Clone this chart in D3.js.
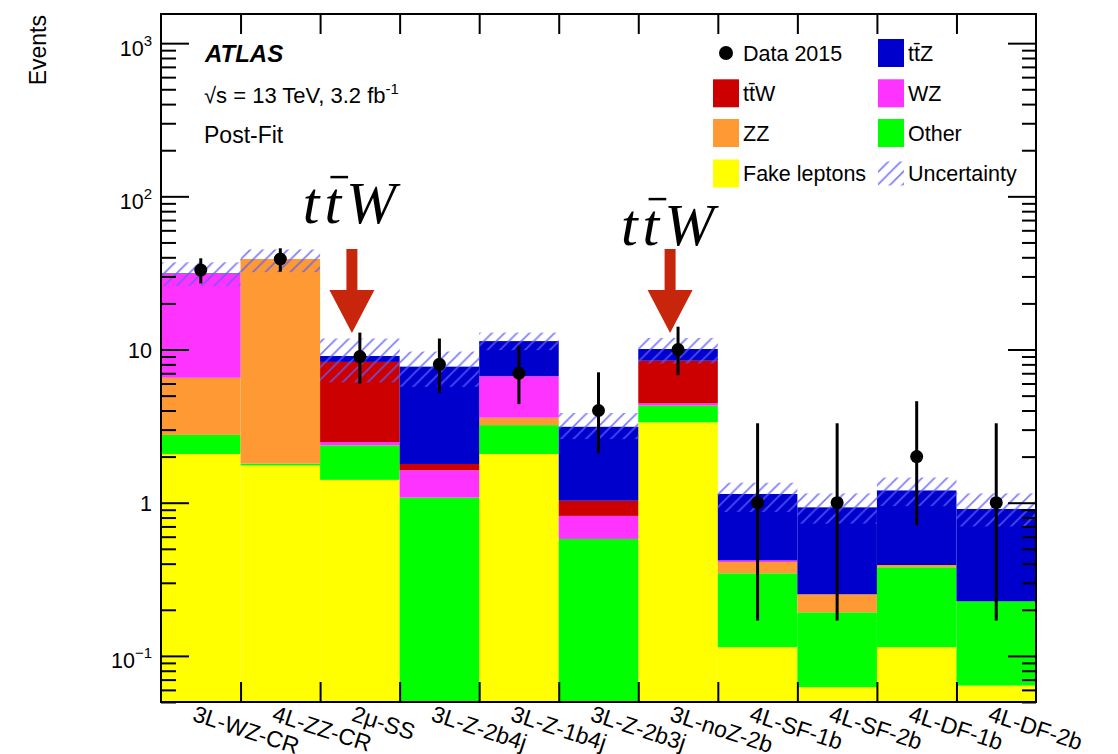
<!DOCTYPE html>
<html lang="en">
<head>
<meta charset="utf-8">
<style>
  body { margin: 0; background: #fff; }
  svg { display: block; font-family: "Liberation Sans", Arial, Helvetica, sans-serif; }
</style>
</head>
<body>
<svg width="1118" height="754"></svg>
<script src="https://d3js.org/d3.v7.min.js"></script>
<script>
// regions (bins)
var categories = ["3L-WZ-CR", "4L-ZZ-CR", "2\u03bc-SS", "3L-Z-2b4j", "3L-Z-1b4j", "3L-Z-2b3j",
                  "3L-noZ-2b", "4L-SF-1b", "4L-SF-2b", "4L-DF-1b", "4L-DF-2b"];

// post-fit yields per process (stacked bottom -> top)
var fakeLeptons = [2.08, 1.75, 1.41, 0,    2.08, 0,    3.35, 0.114, 0.0625, 0.114, 0.064];
var other       = [0.69, 0.05, 0.96, 1.08, 1.13, 0.58, 0.95, 0.232, 0.13,   0.265, 0.163];
var zz          = [3.77, 37.2, 0,    0,    0.38, 0,    0,    0.064, 0.06,   0.013, 0];
var wz          = [24.6, 0,    0.12, 0.55, 3.11, 0.24, 0.15, 0.01,  0,      0,     0];
var ttw         = [0.1,  0,    5.81, 0.16, 0,    0.21, 4.0,  0,     0,      0,     0];
var ttz         = [0.2,  0,    0.77, 5.94, 4.65, 2.10, 1.63, 0.72,  0.68,   0.81,  0.683];

// total uncertainty band (lower / upper edge)
var uncLow  = [26.0, 32.0, 6.1, 5.7, 9.9,  2.6,  8.1,  0.87, 0.73, 0.95, 0.70];
var uncHigh = [37.1, 45.0, 11.8, 9.7, 12.9, 3.85, 11.9, 1.35, 1.15, 1.46, 1.15];

// data 2015 with error bars
var dataObs  = [33,   39,   9,    8,    7,    4,    10,   1,    1,    2,    1];
var dataLow  = [27.0, 32.2, 6.0,  5.2,  4.4,  2.1,  6.8,  0.17, 0.17, 0.71, 0.17];
var dataHigh = [39.4, 45.8, 12.9, 11.8, 10.6, 7.1,  14.1, 3.3,  3.3,  4.6,  3.3];

var majorTicks = [0.1, 1, 10, 100, 1000];

var procKeys   = ["fake", "other", "zz", "wz", "ttw", "ttz"];
var procColors = { fake: "#ffff00", other: "#00ff00", zz: "#ff9933", wz: "#ff33ff", ttw: "#cc0000", ttz: "#0000cc" };

var svg = d3.select("svg");
var plotL = 161, plotR = 1036, plotT = 14, plotB = 702;

var x = d3.scaleBand().domain(categories).range([plotL, plotR]).padding(0);
var xEdge = d3.scaleLinear().domain([0, categories.length]).range([plotL, plotR]);
var y = d3.scaleLog().domain([0.05, 1550]).range([plotB, plotT]);

// rows for the stack
var rows = categories.map(function (c, i) {
    return { cat: c, fake: fakeLeptons[i], other: other[i], zz: zz[i], wz: wz[i], ttw: ttw[i], ttz: ttz[i] };
});
var series = d3.stack().keys(procKeys)(rows);

// hatch pattern
var defs = svg.append("defs");
var pat = defs.append("pattern")
    .attr("id", "hatch")
    .attr("patternUnits", "userSpaceOnUse")
    .attr("width", 12.5).attr("height", 12.5);
pat.append("path")
    .attr("d", "M0,12.5 L12.5,0 M-2,2 L2,-2 M10.5,14.5 L14.5,10.5")
    .attr("stroke", "#5c5cff")
    .attr("stroke-opacity", 0.8)
    .attr("stroke-width", 1.7);

defs.append("clipPath").attr("id", "plotclip")
    .append("rect").attr("x", plotL).attr("y", plotT).attr("width", plotR - plotL).attr("height", plotB - plotT);

var plot = svg.append("g").attr("clip-path", "url(#plotclip)");

// stacked bars
plot.selectAll("g.series")
    .data(series)
    .enter().append("g")
    .attr("class", "series")
    .attr("fill", function (d) { return procColors[d.key]; })
    .selectAll("rect")
    .data(function (d) { return d.filter(function (p) { return p[1] - p[0] > 0; }); })
    .enter().append("rect")
    .attr("x", function (d) { return x(d.data.cat); })
    .attr("width", x.bandwidth())
    .attr("y", function (d) { return y(d[1]); })
    .attr("height", function (d) {
        var lo = d[0] > 0 ? y(d[0]) : plotB;
        return lo - y(d[1]);
    });

// uncertainty hatch
plot.selectAll("rect.unc")
    .data(categories)
    .enter().append("rect")
    .attr("class", "unc")
    .attr("x", function (d) { return x(d); })
    .attr("width", x.bandwidth())
    .attr("y", function (d, i) { return y(uncHigh[i]); })
    .attr("height", function (d, i) { return y(uncLow[i]) - y(uncHigh[i]); })
    .attr("fill", "url(#hatch)");

// data points
var pts = plot.selectAll("g.pt")
    .data(categories)
    .enter().append("g")
    .attr("class", "pt");
pts.append("line")
    .attr("x1", function (d) { return x(d) + x.bandwidth() / 2; })
    .attr("x2", function (d) { return x(d) + x.bandwidth() / 2; })
    .attr("y1", function (d, i) { return y(dataHigh[i]); })
    .attr("y2", function (d, i) { return y(dataLow[i]); })
    .attr("stroke", "#000")
    .attr("stroke-width", 3);
pts.append("circle")
    .attr("cx", function (d) { return x(d) + x.bandwidth() / 2; })
    .attr("cy", function (d, i) { return y(dataObs[i]); })
    .attr("r", 6.5)
    .attr("fill", "#000");

// axes: ticks drawn inward, ROOT style
var minorTicks = [];
[0.01, 0.1, 1, 10, 100, 1000].forEach(function (p) {
    for (var k = 2; k <= 9; k++) {
        var v = p * k;
        if (v >= 0.05 && v <= 1550) minorTicks.push(v);
    }
});

function styleAxis(g) {
    g.select(".domain").remove();
    g.selectAll(".tick line").attr("stroke", "#000").attr("stroke-width", 2);
}

svg.append("g").attr("transform", "translate(" + plotL + ",0)")
    .call(d3.axisLeft(y).tickValues(minorTicks).tickSize(-15).tickFormat(""))
    .call(styleAxis);
var yAxisMajor = svg.append("g").attr("transform", "translate(" + plotL + ",0)")
    .call(d3.axisLeft(y).tickValues(majorTicks).tickSize(-28).tickFormat(""))
    .call(styleAxis);
svg.append("g").attr("transform", "translate(" + plotR + ",0)")
    .call(d3.axisRight(y).tickValues(minorTicks).tickSize(-14).tickFormat(""))
    .call(styleAxis);
svg.append("g").attr("transform", "translate(" + plotR + ",0)")
    .call(d3.axisRight(y).tickValues(majorTicks).tickSize(-28).tickFormat(""))
    .call(styleAxis);

var edges = d3.range(1, categories.length);
svg.append("g").attr("transform", "translate(0," + plotB + ")")
    .call(d3.axisBottom(xEdge).tickValues(edges).tickSize(-20).tickFormat(""))
    .call(styleAxis);
svg.append("g").attr("transform", "translate(0," + plotT + ")")
    .call(d3.axisTop(xEdge).tickValues(edges).tickSize(-20).tickFormat(""))
    .call(styleAxis);

// y tick labels with superscripts
yAxisMajor.selectAll(".tick text").remove();
yAxisMajor.selectAll(".tick").each(function (v) {
    var t = d3.select(this).append("text")
        .attr("x", -9)
        .attr("text-anchor", "end")
        .attr("fill", "#000")
        .style("font-size", "21.5px");
    var e = Math.round(Math.log10(v));
    if (e === 0 || e === 1) {
        t.attr("y", 7.5).text(e === 0 ? "1" : "10");
    } else {
        t.attr("y", 12);
        t.append("tspan").text("10");
        t.append("tspan").attr("dy", -10).style("font-size", "15px")
            .text(e < 0 ? "\u2212" + (-e) : e);
    }
});

// frame
svg.append("rect")
    .attr("x", plotL).attr("y", plotT)
    .attr("width", plotR - plotL).attr("height", plotB - plotT)
    .attr("fill", "none").attr("stroke", "#000").attr("stroke-width", 2);

// x labels
svg.append("g").selectAll("text")
    .data(categories)
    .enter().append("text")
    .attr("transform", function (d) {
        return "translate(" + (x(d) + x.bandwidth() / 2 - 4) + "," + 704 + ") rotate(18)";
    })
    .attr("dy", "0.75em")
    .style("font-size", "23px")
    .text(function (d) { return d; });

// y title
svg.append("text")
    .attr("transform", "translate(46,15) rotate(-90)")
    .attr("text-anchor", "end")
    .style("font-size", "23px")
    .text("Events");

// ATLAS labels
svg.append("text").attr("x", 205).attr("y", 62)
    .style("font-size", "24px").style("font-weight", "bold").style("font-style", "italic")
    .text("ATLAS");
var lumi = svg.append("text").attr("x", 204).attr("y", 103).style("font-size", "22px");
lumi.append("tspan").text("\u221as = 13 TeV, 3.2 fb");
lumi.append("tspan").attr("dy", -9).style("font-size", "15px").text("-1");
svg.append("text").attr("x", 204).attr("y", 143).style("font-size", "23px").text("Post-Fit");

// legend
var legendLeft = [
    { label: "Data 2015", type: "data" },
    { label: "t\u0074\u0304W", type: "ttw" },
    { label: "ZZ", type: "zz" },
    { label: "Fake leptons", type: "fake" }
];
var legendRight = [
    { label: "t\u0074\u0304Z", type: "ttz" },
    { label: "WZ", type: "wz" },
    { label: "Other", type: "other" },
    { label: "Uncertainty", type: "unc" }
];
var rowY = [53, 93.3, 133, 173.5];

function drawLegend(items, bx) {
    var g = svg.append("g");
    items.forEach(function (it, i) {
        var cy = rowY[i];
        if (it.type === "data") {
            g.append("circle").attr("cx", bx + 13).attr("cy", cy).attr("r", 7).attr("fill", "#000");
        } else if (it.type === "unc") {
            g.append("rect").attr("x", bx).attr("y", cy - 12).attr("width", 26).attr("height", 24)
                .attr("fill", "url(#hatch)");
        } else {
            g.append("rect").attr("x", bx).attr("y", cy - 14).attr("width", 26).attr("height", 28)
                .attr("fill", procColors[it.type]);
        }
        g.append("text").attr("x", bx + 30).attr("y", cy + 7.5)
            .style("font-size", "21.5px").text(it.label);
    });
}
drawLegend(legendLeft, 713);
drawLegend(legendRight, 878);

// ttW annotations with arrows
var annotations = [
    { bin: "2\u03bc-SS", tip: 12.8, labelDy: -110 },
    { bin: "3L-noZ-2b", tip: 12.8, labelDy: -88 }
];
annotations.forEach(function (a) {
    var ax = x(a.bin) + x.bandwidth() * 0.4;
    var ty = y(a.tip);
    var g = svg.append("g");
    g.append("path")
        .attr("d", "M" + (ax - 5.5) + "," + (ty - 84) +
            " L" + (ax + 5.5) + "," + (ty - 84) +
            " L" + (ax + 5.5) + "," + (ty - 43) +
            " L" + (ax + 22.5) + "," + (ty - 43) +
            " L" + ax + "," + ty +
            " L" + (ax - 22.5) + "," + (ty - 43) +
            " L" + (ax - 5.5) + "," + (ty - 43) + " Z")
        .attr("fill", "#c8260c");
    var t = g.append("text")
        .attr("x", ax).attr("y", ty + a.labelDy)
        .attr("text-anchor", "middle")
        .style("font-family", "'Liberation Serif', 'DejaVu Serif', serif")
        .style("font-style", "italic")
        .style("font-size", "60px")
        .style("letter-spacing", "5px")
        .text("ttW");
    var ext = t.node().getExtentOfChar(1);
    g.append("line")
        .attr("x1", ext.x + 6).attr("x2", ext.x + ext.width + 2)
        .attr("y1", ty + a.labelDy - 46).attr("y2", ty + a.labelDy - 46)
        .attr("stroke", "#000").attr("stroke-width", 2.5);
});
</script>
</body>
</html>
